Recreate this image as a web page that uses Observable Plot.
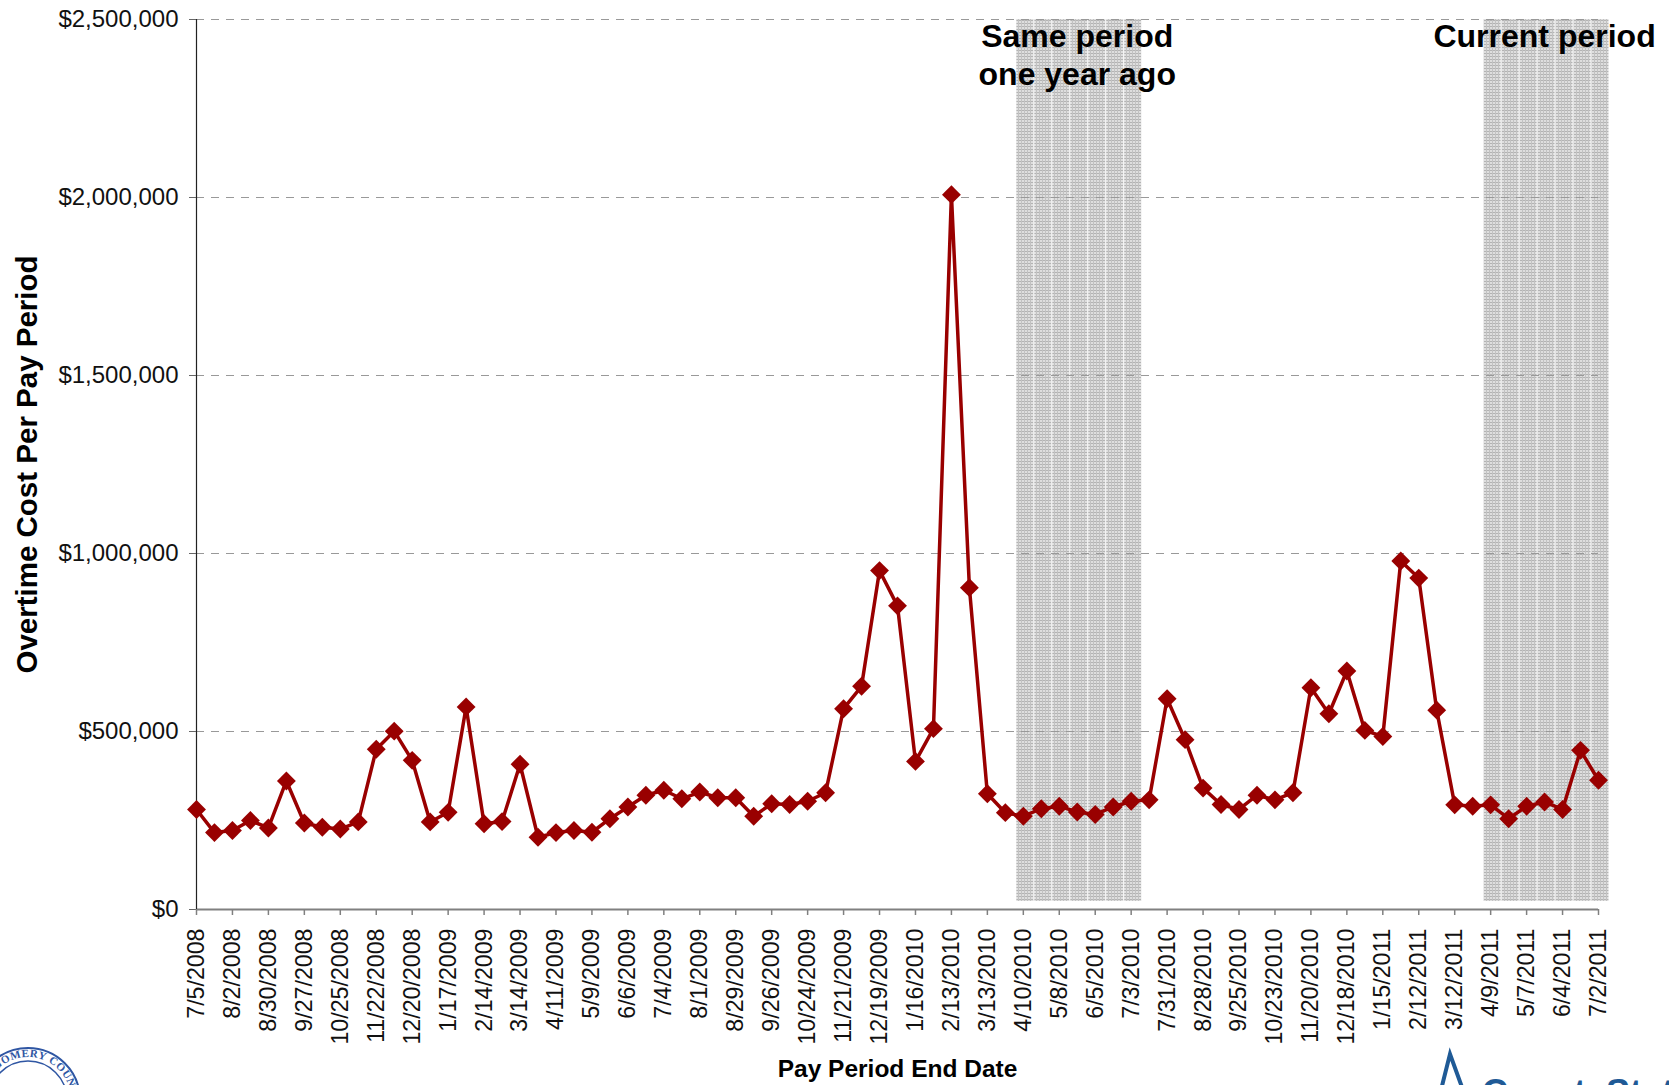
<!DOCTYPE html>
<html>
<head>
<meta charset="utf-8">
<script src="https://cdn.jsdelivr.net/npm/d3@7"></script>
<script src="https://cdn.jsdelivr.net/npm/@observablehq/plot@0.6"></script>
<style>
  html, body { margin: 0; padding: 0; background: #fff; }
  #chart { width: 1669px; height: 1085px; overflow: hidden; }
  #chart svg { display: block; }
</style>
</head>
<body>
<div id="chart"></div>
<script>
// Bi-weekly pay period end dates, July 2008 - July 2011
const payPeriodEnd = [
  "2008-07-05","2008-07-19","2008-08-02","2008-08-16","2008-08-30","2008-09-13","2008-09-27",
  "2008-10-11","2008-10-25","2008-11-08","2008-11-22","2008-12-06","2008-12-20",
  "2009-01-03","2009-01-17","2009-01-31","2009-02-14","2009-02-28","2009-03-14","2009-03-28",
  "2009-04-11","2009-04-25","2009-05-09","2009-05-23","2009-06-06","2009-06-20","2009-07-04",
  "2009-07-18","2009-08-01","2009-08-15","2009-08-29","2009-09-12","2009-09-26","2009-10-10",
  "2009-10-24","2009-11-07","2009-11-21","2009-12-05","2009-12-19",
  "2010-01-02","2010-01-16","2010-01-30","2010-02-13","2010-02-27","2010-03-13","2010-03-27",
  "2010-04-10","2010-04-24","2010-05-08","2010-05-22","2010-06-05","2010-06-19","2010-07-03",
  "2010-07-17","2010-07-31","2010-08-14","2010-08-28","2010-09-11","2010-09-25","2010-10-09",
  "2010-10-23","2010-11-06","2010-11-20","2010-12-04","2010-12-18",
  "2011-01-01","2011-01-15","2011-01-29","2011-02-12","2011-02-26","2011-03-12","2011-03-26",
  "2011-04-09","2011-04-23","2011-05-07","2011-05-21","2011-06-04","2011-06-18","2011-07-02"
];

// Overtime cost per pay period (dollars)
const overtimeCost = [
  281000, 216000, 222000, 250000, 229000, 361000, 243000,
  231000, 226000, 246000, 450000, 501000, 419000,
  246000, 273000, 569000, 241000, 247000, 408000, 203000,
  216000, 222000, 217000, 255000, 288000, 321000, 335000,
  311000, 330000, 314000, 314000, 262000, 297000, 295000,
  304000, 328000, 564000, 627000, 952000,
  853000, 416000, 508000, 2008000, 904000, 325000, 272000,
  262000, 283000, 290000, 274000, 267000, 288000, 304000,
  308000, 592000, 477000, 341000, 295000, 281000, 321000,
  308000, 328000, 623000, 550000, 670000,
  503000, 486000, 979000, 931000, 560000, 294000, 290000,
  294000, 255000, 290000, 302000, 281000, 447000, 363000
];

// Highlighted comparison windows (pay periods) and their captions
const samePeriodLastYear = ["2010-04-10","2010-04-24","2010-05-08","2010-05-22","2010-06-05","2010-06-19","2010-07-03"];
const currentPeriod      = ["2011-04-09","2011-04-23","2011-05-07","2011-05-21","2011-06-04","2011-06-18","2011-07-02"];
const windowCaptions = ["Same period\none year ago", "Current period"];

const yTicks = [0, 500000, 1000000, 1500000, 2000000, 2500000];
const yMax = 2500000;

const parse = d3.utcParse("%Y-%m-%d");
const series = payPeriodEnd.map((d, i) => ({date: parse(d), cost: overtimeCost[i]}));
const xTicks = series.filter((d, i) => i % 2 === 0).map(d => d.date);
const fmtDate = d => `${d.getUTCMonth() + 1}/${d.getUTCDate()}/${d.getUTCFullYear()}`;

const shadeRows = [...samePeriodLastYear, ...currentPeriod].map(s => {
  const d = parse(s);
  return {x1: d3.utcDay.offset(d, -7), x2: d3.utcDay.offset(d, 7)};
});
const captionRows = [samePeriodLastYear, currentPeriod].map((w, i) => ({
  date: parse(w[Math.floor(w.length / 2)]),
  text: windowCaptions[i]
}));

const lineColor = "#990000";
const font = "'Liberation Sans', Arial, Helvetica, sans-serif";

const svg = Plot.plot({
  width: 1669,
  height: 1085,
  marginLeft: 196,
  marginRight: 71,
  marginTop: 19,
  marginBottom: 176,
  style: {fontFamily: font, background: "#fff", color: "#111", overflow: "hidden"},
  x: {type: "utc", domain: [series[0].date, series[series.length - 1].date]},
  y: {domain: [0, yMax]},
  marks: [
    // shaded comparison windows
    Plot.rect(shadeRows, {
      x1: "x1", x2: "x2", y1: 0, y2: yMax,
      insetLeft: 0.5, insetRight: 0.5, insetBottom: 8, dx: 2,
      fill: "url(#shadeHatch)"
    }),
    // dashed gridlines
    Plot.ruleY(yTicks.filter(v => v > 0), {stroke: "#999", strokeWidth: 1.2, strokeDasharray: "8,7"}),
    // axis lines
    Plot.ruleY([0], {stroke: "#808080", strokeWidth: 2}),
    Plot.ruleX([series[0].date], {y1: 0, y2: yMax, stroke: "#222", strokeWidth: 1.2}),
    Plot.axisY({
      ticks: yTicks, tickFormat: d3.format("$,"), tickSize: 7, tickPadding: 11,
      fontSize: 24, stroke: "#666", fill: "#111", label: null
    }),
    Plot.axisX({
      ticks: xTicks, tickFormat: fmtDate, tickRotate: -90, tickSize: 6, tickPadding: 13,
      fontSize: 23.2, stroke: "#808080", strokeWidth: 1.5, fill: "#111", label: null
    }),
    // the series
    Plot.line(series, {x: "date", y: "cost", stroke: lineColor, strokeWidth: 3.5, strokeLinejoin: "round"}),
    Plot.dot(series, {x: "date", y: "cost", symbol: "diamond2", r: 8.5, fill: lineColor, stroke: "none"}),
    // window captions
    Plot.text(captionRows, {
      x: "date", y: yMax, text: "text", lineAnchor: "top", dy: 0, dx: 0,
      fontSize: 32, fontWeight: "bold", lineHeight: 1.2, fill: "#000"
    }),
    // axis titles
    Plot.text(["Overtime Cost Per Pay Period"], {
      frameAnchor: "left", textAnchor: "middle", rotate: -90, dx: -169,
      fontSize: 29.5, fontWeight: "bold", fill: "#000"
    }),
    Plot.text(["Pay Period End Date"], {
      frameAnchor: "bottom", textAnchor: "middle", dy: 167, fontSize: 24.5, fontWeight: "bold", fill: "#000"
    })
  ]
});

// fine cross-hatch used by the shaded windows
const root = d3.select(svg);
const pat = root.insert("defs", ":first-child")
  .append("pattern").attr("id", "shadeHatch")
  .attr("patternUnits", "userSpaceOnUse").attr("width", 3).attr("height", 3);
pat.append("rect").attr("width", 3).attr("height", 3).attr("fill", "#dedede");
pat.append("rect").attr("y", 2).attr("width", 3).attr("height", 1).attr("fill", "#b3b3b3");
pat.append("rect").attr("x", 2).attr("width", 1).attr("height", 3).attr("fill", "#c2c2c2");

// county seal (lower left) and CountyStat mark (lower right), cut off by the page edge
const seal = root.append("g").attr("transform", "translate(28,1100)");
seal.append("circle").attr("r", 52).attr("fill", "#fff").attr("stroke", "#2f56a3").attr("stroke-width", 2);
seal.append("circle").attr("r", 39).attr("fill", "none").attr("stroke", "#2f56a3").attr("stroke-width", 1.5);
seal.append("path").attr("id", "sealArc").attr("fill", "none")
  .attr("d", "M -43,0 A 43,43 0 0 1 43,0");
seal.append("text").attr("font-family", "'Liberation Serif', serif").attr("font-size", 11)
  .attr("font-weight", "bold").attr("fill", "#2f56a3").attr("letter-spacing", 0.5)
  .append("textPath").attr("href", "#sealArc").attr("startOffset", "50%").attr("text-anchor", "middle")
  .text("MONTGOMERY COUNTY");
seal.append("ellipse").attr("cx", 0).attr("cy", -2).attr("rx", 16).attr("ry", 12).attr("fill", "#d6b23a");

const logo = root.append("g");
logo.append("path").attr("d", "M 1441,1090 L 1450,1054 L 1463,1090")
  .attr("fill", "none").attr("stroke", "#1f5a96").attr("stroke-width", 4).attr("stroke-linejoin", "miter");
logo.append("text").attr("x", 1482).attr("y", 1105).attr("text-anchor", "start").attr("font-family", font)
  .attr("font-size", 36).attr("font-weight", "bold").attr("fill", "#1f5a96").text("CountyStat");

document.getElementById("chart").appendChild(svg);
</script>
</body>
</html>
